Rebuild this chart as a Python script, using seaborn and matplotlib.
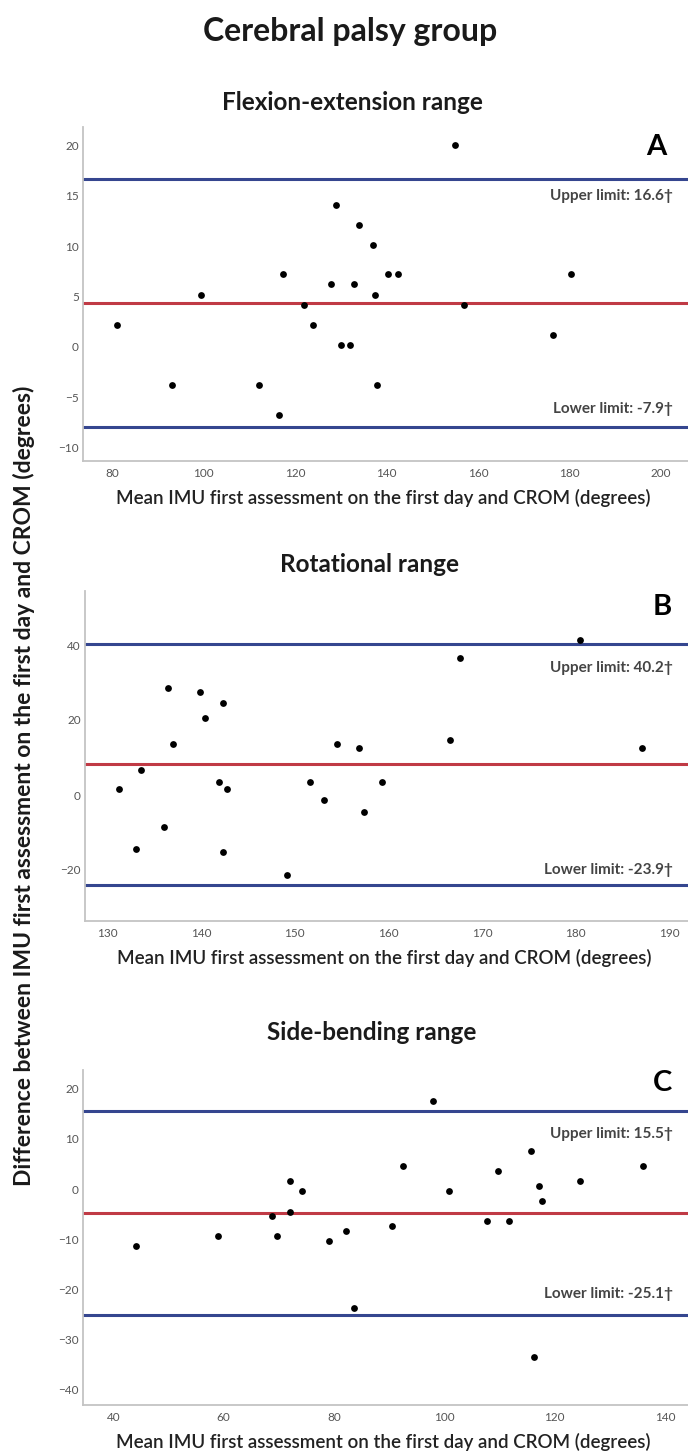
import matplotlib
matplotlib.use("Agg")
import matplotlib.pyplot as plt
import seaborn as sns
import pandas as pd

sns.set_theme(style="white")
plt.rcParams['font.family'] = ['Lato', 'DejaVu Sans']

# ---------------- data ----------------
main_title = "Cerebral palsy group"
panel_titles = ["Flexion-extension range", "Rotational range", "Side-bending range"]
panel_letters = ["A", "B", "C"]
x_label = "Mean IMU first assessment on the first day and CROM (degrees)"
y_label = "Difference between IMU first assessment on the first day and CROM (degrees)"

fe_mean = [155.0, 129.0, 134.1, 137.1, 117.5, 140.4, 142.5, 180.3, 128.0, 132.9, 99.5, 137.5,
           122.1, 157.0, 81.2, 124.0, 176.3, 130.0, 132.0, 93.2, 112.1, 138.0, 116.6]
fe_diff = [20.0, 14.1, 12.1, 10.1, 7.2, 7.2, 7.2, 7.2, 6.2, 6.2, 5.2, 5.2,
           4.2, 4.2, 2.2, 2.2, 1.2, 0.2, 0.2, -3.8, -3.8, -3.8, -6.7]

rot_mean = [180.5, 167.6, 136.5, 139.9, 142.3, 140.4, 137.0, 154.5, 166.6, 156.9, 187.1, 133.6,
            141.9, 151.6, 159.3, 131.2, 142.8, 153.1, 157.4, 136.0, 133.1, 142.3, 149.2]
rot_diff = [41.4, 36.5, 28.5, 27.5, 24.6, 20.6, 13.5, 13.5, 14.6, 12.5, 12.5, 6.6,
            3.6, 3.6, 3.6, 1.6, 1.6, -1.4, -4.4, -8.4, -14.4, -15.3, -21.3]

sb_mean = [98.0, 115.7, 92.5, 136.1, 109.8, 72.1, 124.6, 117.2, 74.2, 100.9, 117.8, 68.8,
           72.1, 107.8, 111.8, 90.5, 58.9, 69.7, 82.1, 79.1, 44.1, 83.6, 116.2]
sb_diff = [17.5, 7.5, 4.5, 4.5, 3.6, 1.6, 1.6, 0.6, -0.4, -0.4, -2.4, -5.4,
           -4.5, -6.4, -6.4, -7.4, -9.4, -9.4, -8.4, -10.4, -11.4, -23.6, -33.4]

upper_limits = [16.6, 40.2, 15.5]
lower_limits = [-7.9, -23.9, -25.1]
bias_lines = [4.35, 8.15, -4.8]
upper_texts = ["Upper limit: 16.6\u2020", "Upper limit: 40.2\u2020", "Upper limit: 15.5\u2020"]
lower_texts = ["Lower limit: -7.9\u2020", "Lower limit: -23.9\u2020", "Lower limit: -25.1\u2020"]

x_ticks = [list(range(80, 201, 20)), list(range(130, 191, 10)), list(range(40, 141, 20))]
y_ticks = [list(range(-10, 21, 5)), list(range(-20, 41, 20)), list(range(-40, 21, 10))]

frames = [pd.DataFrame({"mean": fe_mean, "diff": fe_diff}),
          pd.DataFrame({"mean": rot_mean, "diff": rot_diff}),
          pd.DataFrame({"mean": sb_mean, "diff": sb_diff})]

# ---------------- layout (pixels of a 688x1455 canvas) ----------------
W, H = 688, 1455
fig = plt.figure(figsize=(W / 100, H / 100), dpi=100)
fig.patch.set_facecolor("white")

# left, top, bottom in px
axes_px = [(83, 127, 461), (85, 591, 921), (83, 1070, 1405)]
xlims = [(73.7, 205.9), (127.6, 192.0), (34.5, 144.2)]
ylims = [(-11.3, 21.8), (-33.6, 54.4), (-43.0, 23.7)]
title_pos = [(352, 103), (370, 565), (372, 1032)]
letter_pos = [(656, 147), (662, 607), (662, 1083)]
upper_off = [-17, -24, -23]
lower_off = [18, 15, 21]

blue = "#35468f"
red = "#c03a45"

fig.text(350 / W, 1 - 32 / H, main_title, ha="center", va="center",
         fontsize=23, fontweight="bold", color="#1a1a1a")
fig.text(24 / W, 1 - 786 / H, y_label, ha="center", va="center", rotation=90,
         fontsize=16.5, fontweight="bold", color="#1a1a1a")

for i, df in enumerate(frames):
    l, t, b = axes_px[i]
    ax = fig.add_axes([l / W, 1 - b / H, (W - l) / W, (b - t) / H])
    ax.set_facecolor("white")

    ax.axhline(upper_limits[i], color=blue, lw=2.2, zorder=1)
    ax.axhline(lower_limits[i], color=blue, lw=2.2, zorder=1)
    ax.axhline(bias_lines[i], color=red, lw=2.2, zorder=1)

    sns.scatterplot(data=df, x="mean", y="diff", ax=ax, color="black", s=24,
                    edgecolor="black", linewidth=0, zorder=3, legend=False)

    ax.set_xlim(*xlims[i])
    ax.set_ylim(*ylims[i])
    ax.set_xticks(x_ticks[i])
    ax.set_yticks(y_ticks[i])
    ax.tick_params(axis="both", length=0, labelsize=8.5, labelcolor="#555555")
    ax.tick_params(axis="x", pad=5)
    ax.tick_params(axis="y", pad=3)

    sns.despine(ax=ax, top=True, right=True)
    for s in ("left", "bottom"):
        ax.spines[s].set_color("#c4c4c4")
        ax.spines[s].set_linewidth(1.3)

    ax.set_ylabel("")
    ax.set_xlabel(x_label, fontsize=13.5, fontweight="semibold", color="#222222")
    ax.xaxis.label.set_va("center")
    ax.xaxis.set_label_coords(0.497, -37 / (b - t))

    ax.annotate(upper_texts[i], xy=(0.975, upper_limits[i]),
                xycoords=("axes fraction", "data"), xytext=(0, upper_off[i]),
                textcoords="offset pixels", ha="right", va="center",
                fontsize=11, fontweight="bold", color="#444444")
    ax.annotate(lower_texts[i], xy=(0.975, lower_limits[i]),
                xycoords=("axes fraction", "data"), xytext=(0, lower_off[i]),
                textcoords="offset pixels", ha="right", va="center",
                fontsize=11, fontweight="bold", color="#444444")

    tx, ty = title_pos[i]
    fig.text(tx / W, 1 - ty / H, panel_titles[i], ha="center", va="center",
             fontsize=17.5, fontweight="bold", color="#1a1a1a")
    lx, ly = letter_pos[i]
    fig.text(lx / W, 1 - ly / H, panel_letters[i], ha="center", va="center",
             fontsize=21, fontweight="bold", color="black")

fig.savefig("out.png", dpi=100, facecolor="white")
